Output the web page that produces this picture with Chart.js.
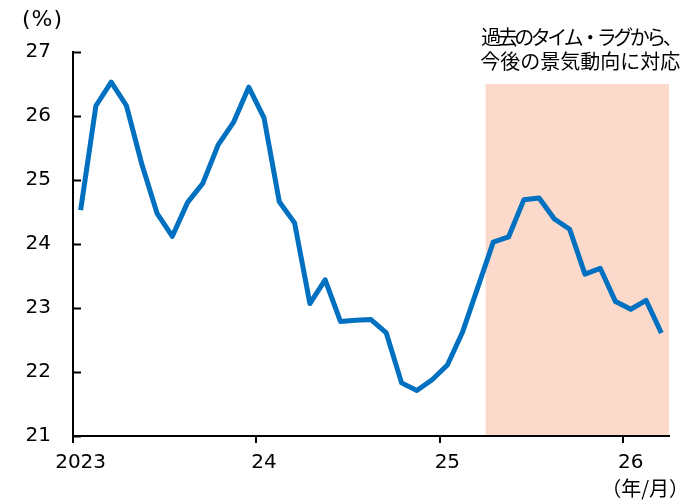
<!DOCTYPE html>
<html lang="ja">
<head>
<meta charset="utf-8">
<script src="https://cdn.jsdelivr.net/npm/chart.js@4.4.1/dist/chart.umd.min.js"></script>
<style>
    html, body { margin: 0; padding: 0; background: #fff; }
</style>
</head>
<body>
<canvas id="rateChart" width="691" height="500"></canvas>
<script>
// 月次データ（2023年1月〜2026年3月）
const rateValues = [
    24.53, 26.16, 26.53, 26.16, 25.25, 24.48, 24.12, 24.65, 24.95, 25.55, 25.90, 26.45,
    25.97, 24.66, 24.33, 23.07, 23.44, 22.79, 22.81, 22.82, 22.61, 21.83, 21.71, 21.88,
    22.11, 22.63, 23.33, 24.03, 24.11, 24.69, 24.72, 24.39, 24.23, 23.53, 23.62, 23.10,
    22.98, 23.12, 22.61
];
const xTickPositions = [0, 12, 24, 36];
const xTickLabels = ['2023', '24', '25', '26'];
const yTickValues = [21, 22, 23, 24, 25, 26, 27];
// 網掛け（2025年4月以降）
const shadeFrom = 27;
const shadeTo = 39;
const shadeTop = 26.5;
const noteLines = ['過去のタイム・ラグから、', '今後の景気動向に対応'];

const axisFont = { family: '"DejaVu Sans", Verdana, sans-serif', size: 20 };
const jpFont = '"Noto Sans CJK JP", sans-serif';

// 網掛け
const shadePlugin = {
    id: 'shade',
    beforeDraw(chart) {
        const { ctx, scales: { x, y } } = chart;
        const left = x.getPixelForValue(shadeFrom);
        const right = x.getPixelForValue(shadeTo);
        const top = y.getPixelForValue(shadeTop);
        const bottom = y.getPixelForValue(21);
        ctx.save();
        ctx.fillStyle = '#fcdacb';
        ctx.fillRect(left, top, right - left, bottom - top);
        ctx.restore();
    }
};

// 内向きの目盛り・注記
const extrasPlugin = {
    id: 'extras',
    afterDraw(chart) {
        const { ctx, scales: { x, y } } = chart;
        ctx.save();
        ctx.strokeStyle = '#000';
        ctx.lineWidth = 2;
        yTickValues.forEach(v => {
            const py = Math.round(y.getPixelForValue(v)) + 0.5;
            ctx.beginPath();
            ctx.moveTo(x.left, py);
            ctx.lineTo(x.left + 8, py);
            ctx.stroke();
        });

        ctx.fillStyle = '#000';
        ctx.font = '22px ' + axisFont.family;
        ctx.textAlign = 'left';
        ctx.textBaseline = 'middle';
        ctx.letterSpacing = '1px';
        ctx.fillText('(%)', 22, 20);

        const cx = (x.getPixelForValue(shadeFrom) + x.getPixelForValue(shadeTo)) / 2 + 3;
        const topPx = y.getPixelForValue(shadeTop);
        ctx.textAlign = 'center';
        ctx.font = '20px ' + jpFont;
        ctx.letterSpacing = '-3.5px';
        ctx.fillText(noteLines[0], cx, topPx - 47);
        ctx.letterSpacing = '0px';
        ctx.fillText(noteLines[1], cx, topPx - 23);

        ctx.font = '20px ' + jpFont;
        ctx.textAlign = 'right';
        ctx.fillText('（年/月）', 689, 488);
        ctx.restore();
    }
};

const ctx = document.getElementById('rateChart').getContext('2d');
new Chart(ctx, {
    type: 'line',
    data: {
        datasets: [{
            data: rateValues.map((v, i) => ({ x: i + 0.5, y: v })),
            borderColor: '#0070c0',
            borderWidth: 5,
            borderJoinStyle: 'round',
            pointRadius: 0,
            tension: 0,
            fill: false
        }]
    },
    options: {
        responsive: false,
        devicePixelRatio: 1,
        animation: false,
        layout: { padding: { top: 52, right: 22, left: 0, bottom: 0 } },
        plugins: {
            legend: { display: false },
            tooltip: { enabled: false }
        },
        scales: {
            x: {
                type: 'linear',
                min: 0,
                max: 39,
                afterBuildTicks: scale => {
                    scale.ticks = xTickPositions.map(v => ({ value: v }));
                },
                afterFit: scale => { scale.height = 64; },
                ticks: {
                    color: '#000',
                    font: axisFont,
                    padding: 8,
                    labelOffset: 7.6,
                    maxRotation: 0,
                    callback: value => xTickLabels[xTickPositions.indexOf(value)]
                },
                grid: {
                    drawOnChartArea: false,
                    color: '#000',
                    lineWidth: 2,
                    tickLength: 7
                },
                border: { color: '#000', width: 2 }
            },
            y: {
                min: 21,
                max: 27,
                afterBuildTicks: scale => {
                    scale.ticks = yTickValues.map(v => ({ value: v }));
                },
                afterFit: scale => { scale.width = 73; },
                ticks: {
                    color: '#000',
                    font: axisFont,
                    padding: 22
                },
                grid: { display: false, drawTicks: false },
                border: { color: '#000', width: 2 }
            }
        }
    },
    plugins: [shadePlugin, extrasPlugin]
});
</script>
</body>
</html>
